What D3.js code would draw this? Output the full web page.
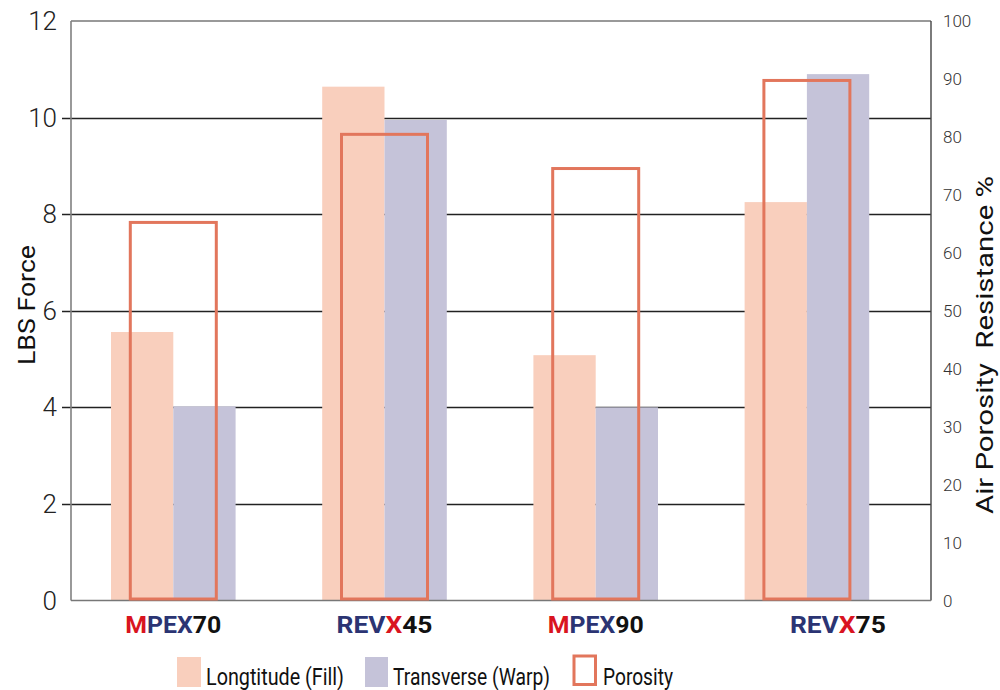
<!DOCTYPE html>
<html>
<head>
<meta charset="utf-8">
<script src="https://cdn.jsdelivr.net/npm/d3@7"></script>
<style>
  body { margin: 0; background: #fff; }
  text { font-family: Roboto, "DejaVu Sans Condensed", sans-serif; }
</style>
</head>
<body>
<script>
// chart data
const products = ["MPEX70", "REVX45", "MPEX90", "REVX75"];
const fillValues = [5.56, 10.64, 5.08, 8.25];       // Longtitude (Fill), LBS
const warpValues = [4.02, 9.95, 4.0, 10.9];         // Transverse (Warp), LBS
const porosityValues = [65.5, 80.7, 74.8, 90];      // Air porosity resistance %
const leftTicks = [0, 2, 4, 6, 8, 10, 12];
const rightTicks = [0, 10, 20, 30, 40, 50, 60, 70, 80, 90, 100];
const legendLabels = ["Longtitude (Fill)", "Transverse (Warp)", "Porosity"];

const w = 1000;
const h = 690;
const plotLeft = 71;
const plotRight = 931;
const plotTop = 21;
const plotBottom = 600.5;

const fillColor = "#f9cfbd";
const warpColor = "#c5c3d9";
const porosityColor = "#e2765c";

// scales
const xScale = d3.scaleBand()
                 .domain(products)
                 .range([67.7, 912.5])
                 .padding(0);
const yLeft = d3.scaleLinear().domain([0, 12]).range([plotBottom, plotTop]);
const yRight = d3.scaleLinear().domain([0, 100]).range([plotBottom, plotTop]);

const barWidth = 62.3;
const boxWidth = 89;
const cx = d => xScale(d) + xScale.bandwidth() / 2;

const svg = d3.select("body")
              .append("svg")
              .attr("width", w)
              .attr("height", h);

// gridlines + left ticks
svg.append("g")
   .selectAll("line")
   .data(leftTicks.filter(t => t > 0 && t < 12))
   .enter()
   .append("line")
   .attr("x1", plotLeft - 9)
   .attr("x2", plotRight)
   .attr("y1", d => Math.round(yLeft(d)) + 0.5)
   .attr("y2", d => Math.round(yLeft(d)) + 0.5)
   .attr("stroke", "#222")
   .attr("stroke-width", 1.4);

// frame: top, left, right
svg.append("line").attr("x1", plotLeft).attr("x2", plotRight).attr("y1", plotTop).attr("y2", plotTop)
   .attr("stroke", "#777").attr("stroke-width", 1.5);
svg.append("line").attr("x1", plotLeft).attr("x2", plotLeft).attr("y1", plotTop).attr("y2", plotBottom)
   .attr("stroke", "#808080").attr("stroke-width", 1.6);
svg.append("line").attr("x1", plotRight).attr("x2", plotRight).attr("y1", plotTop).attr("y2", plotBottom)
   .attr("stroke", "#444").attr("stroke-width", 1.4);

// bars
svg.selectAll(".fill-bar")
   .data(products)
   .enter()
   .append("rect")
   .attr("class", "fill-bar")
   .attr("x", d => cx(d) - barWidth)
   .attr("y", (d, i) => yLeft(fillValues[i]))
   .attr("width", barWidth)
   .attr("height", (d, i) => yLeft(0) - yLeft(fillValues[i]))
   .attr("fill", fillColor);

svg.selectAll(".warp-bar")
   .data(products)
   .enter()
   .append("rect")
   .attr("class", "warp-bar")
   .attr("x", d => cx(d))
   .attr("y", (d, i) => yLeft(warpValues[i]))
   .attr("width", barWidth)
   .attr("height", (d, i) => yLeft(0) - yLeft(warpValues[i]))
   .attr("fill", warpColor);

// bottom baseline over bars
svg.append("line").attr("x1", plotLeft).attr("x2", plotRight).attr("y1", plotBottom).attr("y2", plotBottom)
   .attr("stroke", "#777").attr("stroke-width", 1.6);

// porosity outline boxes (right axis)
svg.selectAll(".porosity")
   .data(products)
   .enter()
   .append("rect")
   .attr("class", "porosity")
   .attr("x", d => cx(d) - boxWidth / 2 + 1.5)
   .attr("y", (d, i) => yRight(porosityValues[i]) + 1.5)
   .attr("width", boxWidth - 3)
   .attr("height", (d, i) => yRight(0) - yRight(porosityValues[i]) - 3)
   .attr("fill", "none")
   .attr("stroke", porosityColor)
   .attr("stroke-width", 3);

// left tick labels
svg.append("g")
   .selectAll("text")
   .data(leftTicks)
   .enter()
   .append("text")
   .attr("x", 57)
   .attr("y", d => yLeft(d) + 9)
   .attr("text-anchor", "end")
   .style("font-weight", 300)
   .style("font-size", "26px")
   .style("fill", "#222")
   .text(d => d);

// right tick labels
svg.append("g")
   .selectAll("text")
   .data(rightTicks)
   .enter()
   .append("text")
   .attr("x", 943)
   .attr("y", d => yRight(d) + 6)
   .style("font-weight", 300)
   .style("font-size", "17px")
   .style("fill", "#333")
   .text(d => d);

// axis titles
svg.append("text")
   .attr("transform", `translate(35, 305) rotate(-90)`)
   .attr("text-anchor", "middle")
   .attr("textLength", 120)
   .attr("lengthAdjust", "spacingAndGlyphs")
   .style("font-size", "24px")
   .style("fill", "#111")
   .text("LBS Force");

svg.append("text")
   .attr("transform", `translate(993, 345) rotate(-90)`)
   .attr("text-anchor", "middle")
   .attr("textLength", 338)
   .attr("lengthAdjust", "spacingAndGlyphs")
   .style("font-size", "24px")
   .style("fill", "#111")
   .text("Air Porosity\u00a0 Resistance %");

// product labels, coloured by parts
const red = "#d9141f";
const navy = "#2b3473";
function labelParts(name) {
  if (name.startsWith("MPEX")) return [["M", red], ["PEX", navy], [name.slice(4), "#111"]];
  return [["REV", navy], ["X", red], [name.slice(4), "#111"]];
}
products.forEach((p, i) => {
  const nudge = i === 3 ? 31 : 0;
  const t = svg.append("text")
               .attr("x", cx(p) + nudge)
               .attr("y", 633)
               .attr("text-anchor", "middle")
               .attr("textLength", 96)
               .attr("lengthAdjust", "spacingAndGlyphs")
               .style("font-size", "23px")
               .style("font-weight", "bold");
  labelParts(p).forEach(([s, c]) => t.append("tspan").style("fill", c).text(s));
});

// legend
const legend = svg.append("g");
legend.append("rect").attr("x", 177).attr("y", 657).attr("width", 24).attr("height", 30).attr("fill", fillColor);
legend.append("rect").attr("x", 365).attr("y", 657).attr("width", 23).attr("height", 30).attr("fill", warpColor);
legend.append("rect").attr("x", 574).attr("y", 656).attr("width", 21.5).attr("height", 28.5)
      .attr("fill", "none").attr("stroke", porosityColor).attr("stroke-width", 3);
legend.selectAll("text")
      .data(legendLabels)
      .enter()
      .append("text")
      .attr("x", (d, i) => [206, 393, 603][i])
      .attr("y", 685)
      .attr("textLength", (d, i) => [138, 157, 70][i])
      .attr("lengthAdjust", "spacingAndGlyphs")
      .style("font-size", "24px")
      .style("fill", "#111")
      .text(d => d);
</script>
</body>
</html>
